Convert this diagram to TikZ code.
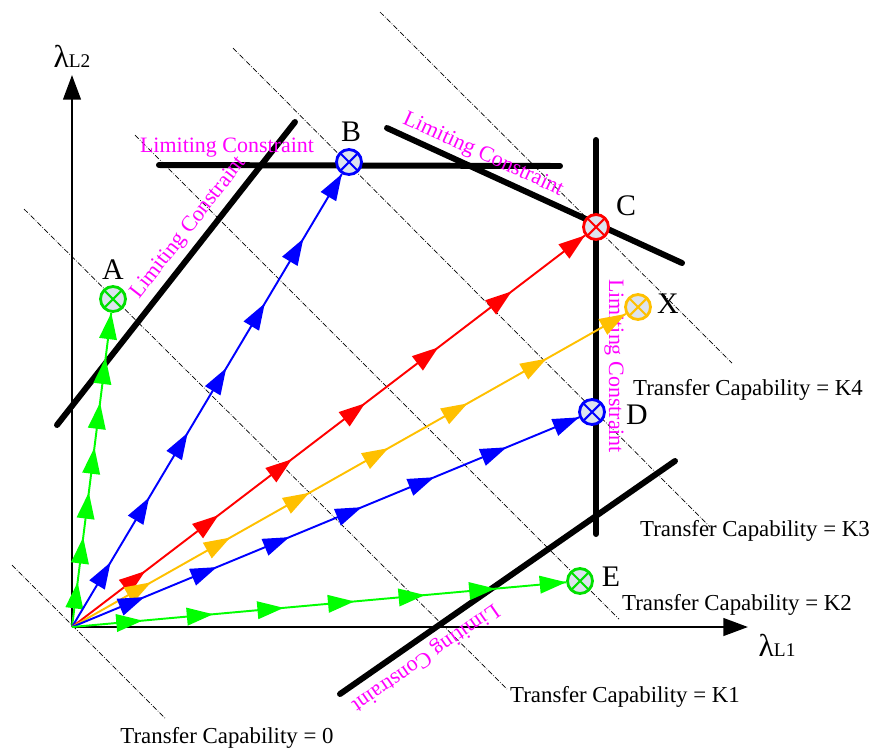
\documentclass[tikz,border=0pt]{standalone}
\usepackage{fontspec}
\setmainfont{Liberation Serif}
\usepackage{tikz}
\usetikzlibrary{arrows.meta,decorations.markings}
\definecolor{flowgreen}{HTML}{00FF00}
\definecolor{flowblue}{HTML}{0000FF}
\definecolor{flowred}{HTML}{FF0000}
\definecolor{flowgold}{HTML}{FFC000}
\definecolor{markgreen}{HTML}{00E000}
\definecolor{limitpink}{HTML}{FF00FF}
\definecolor{markfill}{HTML}{DDE3EE}

\tikzset{
  axis/.style={line width=1.4pt,-{Triangle[length=14pt,width=10pt]}},
  limit/.style={line width=3.4pt,line cap=round},
  tcline/.style={line width=0.4pt,dash pattern=on 3pt off 1pt on 0.4pt off 1pt},
  target/.style={circle,draw=#1,fill=markfill,line width=1.6pt,minimum size=0.5cm,inner sep=0pt,
    path picture={\draw[#1,line width=1.2pt]
      (path picture bounding box.north west) -- (path picture bounding box.south east)
      (path picture bounding box.north east) -- (path picture bounding box.south west);}},
  flow/.style={draw=#1,line width=1.1pt,postaction={decorate},
    decoration={markings,mark=between positions 0.142857 and 1 step 0.142857
      with {\arrow[#1]{Triangle[length=15pt,width=10pt]}}}},
  limtext/.style={text=limitpink,font=\fontsize{12.5}{14}\selectfont,inner sep=0pt},
  tctext/.style={font=\fontsize{13}{15}\selectfont,inner sep=0pt},
  ptlabel/.style={font=\fontsize{17}{19}\selectfont,inner sep=0pt}
}

\begin{document}
\begin{tikzpicture}[x=0.02cm,y=-0.02cm]
  \useasboundingbox (0,0) rectangle (872,752);

  % iso transfer capability lines
  \draw[tcline] (12,565) -- (165,718);
  \draw[tcline] (24,209) -- (507,689);
  \draw[tcline] (135,135) -- (619,619);
  \draw[tcline] (233,48) -- (710,527);
  \draw[tcline] (380,12) -- (732,363);

  % axes
  \coordinate (O) at (72,627);
  \draw[axis] (O) -- (72,75) coordinate (ytip);
  \draw[axis] (O) -- (748,627) coordinate (xtip);
  \node (ylab) at (72,56) {\fontsize{18}{20}\selectfont λ\fontsize{11}{13}\selectfont L2};
  \node (xlab) at (777,645) {\fontsize{18}{20}\selectfont λ\fontsize{11}{13}\selectfont L1};

  % limiting constraints
  \draw[limit] (57,425) -- (295,122);
  \draw[limit] (159,165) -- (560,166);
  \draw[limit] (387,128) -- (682,263);
  \draw[limit] (596,140) -- (596,534);
  \draw[limit] (340,694) -- (675,461);
  \node[limtext] (lc1) at (227,148) {Limiting Constraint};
  \node[limtext,rotate=52] (lc2) at (189,228) {Limiting Constraint};
  \node[limtext,rotate=-24.6] (lc3) at (483,155) {Limiting Constraint};
  \node[limtext,rotate=-90] (lc4) at (614,366) {Limiting Constraint};
  \node[limtext,rotate=214.8] (lc5) at (425,657) {Limiting Constraint};

  % operating points
  \node[target=markgreen] (A) at (113,299) {};
  \node[target=flowblue] (B) at (349,162) {};
  \node[target=flowred] (C) at (596,227) {};
  \node[target=flowgold] (X) at (638,307) {};
  \node[target=flowblue] (D) at (592,412) {};
  \node[target=markgreen] (E) at (580,581) {};
  \node[ptlabel] at (113,270) {A};
  \node[ptlabel] at (351,132) {B};
  \node[ptlabel] at (626,206) {C};
  \node[ptlabel] at (668,304) {X};
  \node[ptlabel] at (637,415) {D};
  \node[ptlabel] at (611,577) {E};

  % transfer directions
  \draw[flow=flowgreen] (O) -- (A);
  \draw[flow=flowblue] (O) -- (B);
  \draw[flow=flowred] (O) -- (C);
  \draw[flow=flowgold] (O) -- (X);
  \draw[flow=flowblue] (O) -- (D);
  \draw[flow=flowgreen] (O) -- (E);

  % capability labels
  \node[tctext] (tc0) at (227,738) {Transfer Capability = 0};
  \node[tctext] (tc1) at (625,697) {Transfer Capability = K1};
  \node[tctext] (tc2) at (737,605) {Transfer Capability = K2};
  \node[tctext] (tc3) at (755,531) {Transfer Capability = K3};
  \node[tctext] (tc4) at (748,390) {Transfer Capability = K4};
\end{tikzpicture}
\end{document}
